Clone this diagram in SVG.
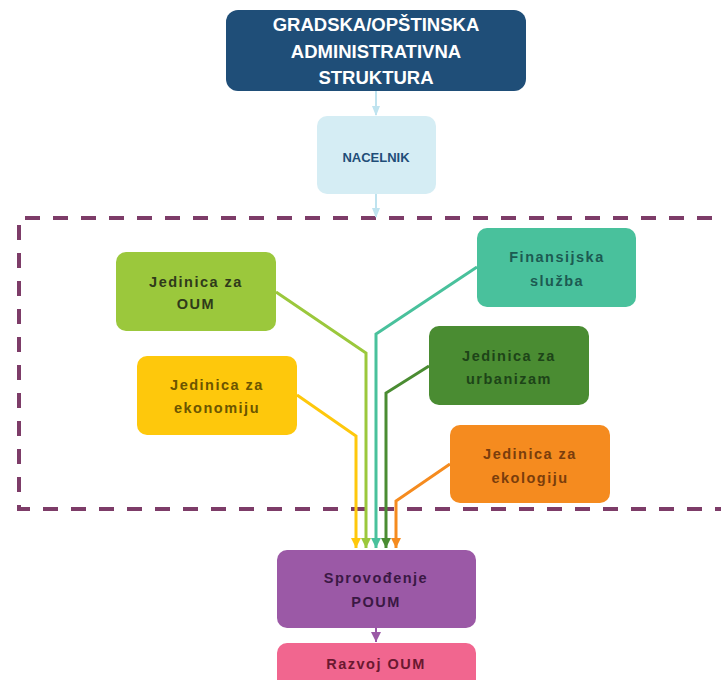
<svg xmlns="http://www.w3.org/2000/svg" width="721" height="680" viewBox="0 0 721 680">
<style>
.t{font-family:"Liberation Sans",Arial,sans-serif;font-weight:bold;text-anchor:middle}
.u{font-family:"Liberation Sans",Arial,sans-serif;font-weight:bold;text-anchor:middle;font-size:14.5px;letter-spacing:1.5px}
.c{fill:none;stroke-width:3}
</style>
<defs>
<marker id="mLb" markerWidth="10" markerHeight="8" refX="9" refY="4" orient="auto" markerUnits="userSpaceOnUse"><path d="M0,0L10,4L0,8z" fill="#bfe3ef"/></marker>
<marker id="mY" markerWidth="10" markerHeight="10" refX="10" refY="5" orient="auto" markerUnits="userSpaceOnUse"><path d="M0,0L10,5L0,10z" fill="#fec80c"/></marker>
<marker id="mG" markerWidth="10" markerHeight="10" refX="10" refY="5" orient="auto" markerUnits="userSpaceOnUse"><path d="M0,0L10,5L0,10z" fill="#9bc83c"/></marker>
<marker id="mT" markerWidth="10" markerHeight="10" refX="10" refY="5" orient="auto" markerUnits="userSpaceOnUse"><path d="M0,0L10,5L0,10z" fill="#49c19c"/></marker>
<marker id="mD" markerWidth="10" markerHeight="10" refX="10" refY="5" orient="auto" markerUnits="userSpaceOnUse"><path d="M0,0L10,5L0,10z" fill="#4a8c32"/></marker>
<marker id="mO" markerWidth="10" markerHeight="10" refX="10" refY="5" orient="auto" markerUnits="userSpaceOnUse"><path d="M0,0L10,5L0,10z" fill="#f58b1f"/></marker>
<marker id="mP" markerWidth="10" markerHeight="10" refX="10" refY="5" orient="auto" markerUnits="userSpaceOnUse"><path d="M0,0L10,5L0,10z" fill="#9b59a6"/></marker>
</defs>
<rect width="721" height="680" fill="#ffffff"/>
<path id="dashed-frame" d="M740,218 H19 V509 H740" fill="none" stroke="#7d3c68" stroke-width="4" stroke-dasharray="15 13"/>
<g id="connectors">
<line x1="376" y1="91" x2="376" y2="115" stroke="#bfe3ef" stroke-width="2" marker-end="url(#mLb)"/>
<line x1="376" y1="194" x2="376" y2="217" stroke="#bfe3ef" stroke-width="2" marker-end="url(#mLb)"/>
<polyline class="c" points="297,395 356,436 356,548" stroke="#fec80c" marker-end="url(#mY)"/>
<polyline class="c" points="276,292 366,353 366,548" stroke="#9bc83c" marker-end="url(#mG)"/>
<polyline class="c" points="477,267 376,334 376,548" stroke="#49c19c" marker-end="url(#mT)"/>
<polyline class="c" points="429,366 386,393 386,548" stroke="#4a8c32" marker-end="url(#mD)"/>
<polyline class="c" points="450,464 396,501 396,548" stroke="#f58b1f" marker-end="url(#mO)"/>
<line x1="376" y1="628" x2="376" y2="642" stroke="#9b59a6" stroke-width="2" marker-end="url(#mP)"/>
</g>
<g id="gradska">
<rect x="226" y="10" width="300" height="81" rx="12" fill="#1f4e78"/>
<text class="t" font-size="18.5" fill="#ffffff"><tspan x="376" y="31">GRADSKA/OPŠTINSKA</tspan><tspan x="376" y="58">ADMINISTRATIVNA</tspan><tspan x="376" y="84">STRUKTURA</tspan></text>
</g>
<g id="nacelnik">
<rect x="317" y="116" width="119" height="78" rx="10" fill="#d5edf4"/>
<text class="t" font-size="13" fill="#1f4e78" x="376" y="162">NACELNIK</text>
</g>
<g id="oum">
<rect x="116" y="252" width="160" height="79" rx="10" fill="#9bc83c"/>
<text class="u" fill="#2f3a1a"><tspan x="196" y="287">Jedinica za</tspan><tspan x="196" y="309">OUM</tspan></text>
</g>
<g id="ekonomiju">
<rect x="137" y="356" width="160" height="79" rx="10" fill="#fec80c"/>
<text class="u" fill="#6b5500"><tspan x="217" y="390">Jedinica za</tspan><tspan x="217" y="413">ekonomiju</tspan></text>
</g>
<g id="finansijska">
<rect x="477" y="228" width="159" height="79" rx="10" fill="#49c19c"/>
<text class="u" fill="#1c5a52"><tspan x="557" y="262">Finansijska</tspan><tspan x="557" y="286">služba</tspan></text>
</g>
<g id="urbanizam">
<rect x="429" y="326" width="160" height="79" rx="10" fill="#4a8c32"/>
<text class="u" fill="#1d4418"><tspan x="509" y="361">Jedinica za</tspan><tspan x="509" y="384">urbanizam</tspan></text>
</g>
<g id="ekologiju">
<rect x="450" y="425" width="160" height="78" rx="10" fill="#f58b1f"/>
<text class="u" fill="#7a3d0c"><tspan x="530" y="459">Jedinica za</tspan><tspan x="530" y="483">ekologiju</tspan></text>
</g>
<g id="sprovodjenje">
<rect x="277" y="550" width="199" height="78" rx="10" fill="#9b59a6"/>
<text class="u" fill="#3a1844"><tspan x="376" y="583">Sprovođenje</tspan><tspan x="376" y="607">POUM</tspan></text>
</g>
<g id="razvoj">
<rect x="277" y="643" width="199" height="50" rx="10" fill="#f1668f"/>
<text class="u" fill="#6a1830" x="376" y="669">Razvoj OUM</text>
</g>
</svg>
